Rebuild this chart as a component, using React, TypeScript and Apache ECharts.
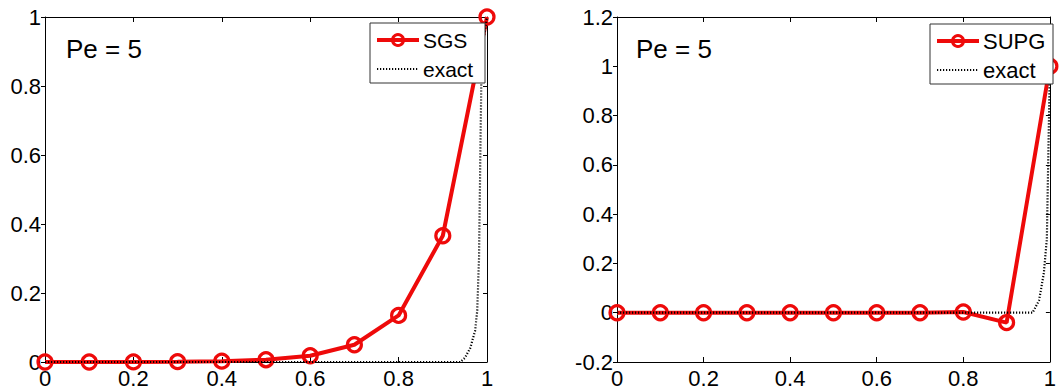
import React, { useEffect, useRef } from "react";
import * as echarts from "echarts";

const nodes = [0, 0.1, 0.2, 0.3, 0.4, 0.5, 0.6, 0.7, 0.8, 0.9, 1.0];
const sgsValues = [0, 0, 0.0003, 0.001, 0.0025, 0.0067, 0.018, 0.05, 0.135, 0.366, 1.0];
const supgValues = [0, 0, 0, 0, 0, 0, 0, 0, 0.003, -0.04, 1.0];

const exactLeftX = [0, 0.94, 0.95, 0.962, 0.973, 0.978, 0.982, 0.985, 0.988, 1.0];
const exactLeftY = [0, 0, 0.012, 0.04, 0.09, 0.15, 0.3, 0.6, 0.9, 1.0];
const exactRightX = [0, 0.96, 0.975, 0.986, 0.993, 0.996, 1.0];
const exactRightY = [0, 0, 0.05, 0.16, 0.3, 0.6, 1.0];

const leftYTicks = { min: 0, max: 1, interval: 0.2 };
const rightYTicks = { min: -0.2, max: 1.2, interval: 0.2 };
const xTicks = { min: 0, max: 1, interval: 0.2 };

const peLabel = "Pe = 5";
const leftLegendNames = ["SGS", "exact"];
const rightLegendNames = ["SUPG", "exact"];

const FONT = "'Liberation Sans', Arial, sans-serif";
const RED = "#ee0a0a";

const pairs = (xs: number[], ys: number[]) => xs.map((x, i) => [x, ys[i]]);

function legendBox(x: number, y: number, w: number, h: number, names: string[], fontSize: number) {
  const row1 = y + 17;
  const row2 = y + 46;
  const lx1 = x + 7;
  const lx2 = x + 49;
  const tx = x + 53;
  return {
    type: "group",
    children: [
      { type: "rect", shape: { x, y, width: w, height: h }, style: { fill: "#fff", stroke: "#333", lineWidth: 1 }, z: 10 },
      { type: "line", shape: { x1: lx1, y1: row1, x2: lx2, y2: row1 }, style: { stroke: RED, lineWidth: 4 }, z: 11 },
      { type: "circle", shape: { cx: (lx1 + lx2) / 2, cy: row1, r: 5.5 }, style: { fill: "rgba(255,255,255,0)", stroke: RED, lineWidth: 3 }, z: 12 },
      { type: "text", x: tx, y: row1, style: { text: names[0], fontSize, fontFamily: FONT, fill: "#000", verticalAlign: "middle" }, z: 12 },
      { type: "line", shape: { x1: lx1, y1: row2, x2: lx2, y2: row2 }, style: { stroke: "#000", lineWidth: 2, lineDash: [1.2, 1.8] }, z: 11 },
      { type: "text", x: tx, y: row2, style: { text: names[1], fontSize, fontFamily: FONT, fill: "#000", verticalAlign: "middle" }, z: 12 },
    ],
  };
}

export default function App() {
  const ref = useRef<HTMLDivElement>(null);
  useEffect(() => {
    if (!ref.current) return;
    const chart = echarts.init(ref.current, undefined, { renderer: "svg" });
    const lbl = { color: "#000", fontSize: 22, fontFamily: FONT };
    const axisLine = { show: true, lineStyle: { color: "#000", width: 1 } };
    const mkX = (grid: number, pos: "bottom" | "top") => ({
      type: "value",
      gridIndex: grid,
      position: pos,
      ...xTicks,
      axisLine: { ...axisLine, onZero: false },
      axisTick: { show: true, inside: true, length: 5, lineStyle: { color: "#000" } },
      axisLabel: pos === "bottom" ? { ...lbl, margin: 5 } : { show: false },
      splitLine: { show: false },
    });
    const mkY = (grid: number, pos: "left" | "right", t: any) => ({
      type: "value",
      gridIndex: grid,
      position: pos,
      ...t,
      axisLine: { ...axisLine, onZero: false },
      axisTick: { show: true, inside: pos === "right", length: 4, lineStyle: { color: "#000" } },
      axisLabel: pos === "left" ? { ...lbl, margin: 4 } : { show: false },
      splitLine: { show: false },
    });
    const mainSeries = (name: string, data: number[], idx: number) => ({
      name,
      type: "line",
      xAxisIndex: idx,
      yAxisIndex: idx,
      data: pairs(nodes, data),
      symbol: "circle",
      symbolSize: 14,
      showSymbol: true,
      lineStyle: { color: RED, width: 4 },
      itemStyle: { color: "rgba(255,255,255,0)", borderColor: RED, borderWidth: 3.2 },
      emphasis: { disabled: true },
      z: 2,
    });
    const exactSeries = (xs: number[], ys: number[], idx: number) => ({
      name: "exact",
      type: "line",
      xAxisIndex: idx,
      yAxisIndex: idx,
      data: pairs(xs, ys),
      symbol: "none",
      lineStyle: { color: "#000", width: 2.2, type: [1.2, 1.8] },
      itemStyle: { color: "#000" },
      emphasis: { disabled: true },
      z: 3,
    });
    chart.setOption({
      animation: false,
      grid: [
        { left: 45, top: 17, width: 442, height: 345 },
        { left: 617, top: 17, width: 434, height: 345 },
      ],
      xAxis: [mkX(0, "bottom"), mkX(1, "bottom"), mkX(0, "top"), mkX(1, "top")],
      yAxis: [
        mkY(0, "left", leftYTicks),
        mkY(1, "left", rightYTicks),
        mkY(0, "right", leftYTicks),
        mkY(1, "right", rightYTicks),
      ],
      graphic: [
        { type: "text", left: 66, top: 36, style: { text: peLabel, fontSize: 26, fontFamily: FONT, fill: "#000" } },
        { type: "text", left: 636, top: 36, style: { text: peLabel, fontSize: 26, fontFamily: FONT, fill: "#000" } },
        legendBox(370, 23, 115, 60, leftLegendNames, 21),
        legendBox(930, 24, 123, 60, rightLegendNames, 22),
      ],
      series: [
        mainSeries("SGS", sgsValues, 0),
        exactSeries(exactLeftX, exactLeftY, 0),
        mainSeries("SUPG", supgValues, 1),
        exactSeries(exactRightX, exactRightY, 1),
      ],
    });
    return () => chart.dispose();
  }, []);
  return (
    <div
      ref={ref}
      style={{ position: "fixed", left: 0, top: 0, width: 1059, height: 392, background: "#fff" }}
    />
  );
}
